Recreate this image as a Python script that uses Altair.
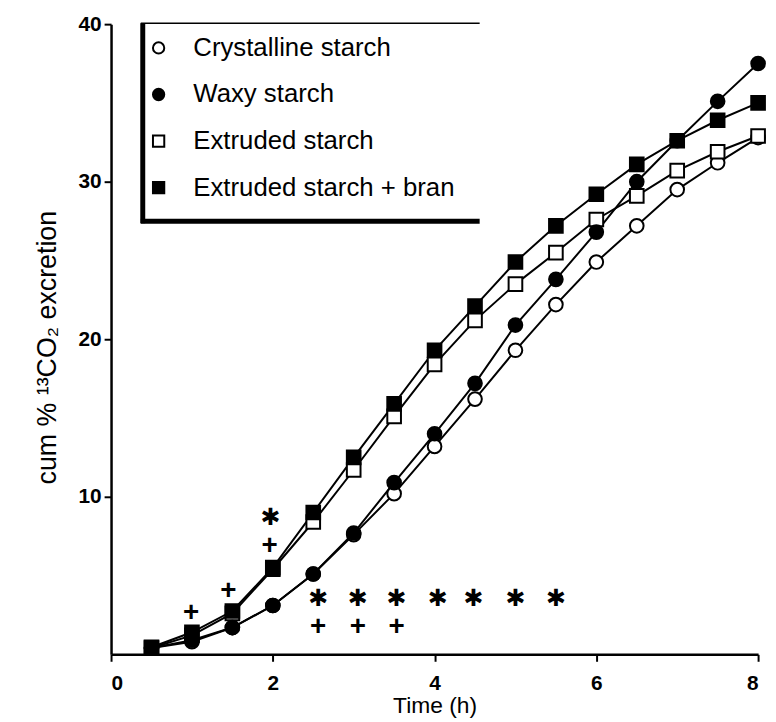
import altair as alt
import pandas as pd

# ---- data ----
time = [0.5, 1, 1.5, 2, 2.5, 3, 3.5, 4, 4.5, 5, 5.5, 6, 6.5, 7, 7.5, 8]
crystalline = [0.4, 0.8, 1.7, 3.1, 5.1, 7.6, 10.2, 13.2, 16.2, 19.3, 22.2, 24.9, 27.2, 29.5, 31.2, 32.8]
waxy = [0.4, 0.9, 1.7, 3.1, 5.1, 7.7, 10.9, 14.0, 17.2, 20.9, 23.8, 26.8, 30.0, 32.6, 35.1, 37.5]
extruded = [0.4, 1.2, 2.6, 5.4, 8.4, 11.7, 15.1, 18.4, 21.2, 23.5, 25.5, 27.6, 29.1, 30.7, 31.9, 32.9]
bran = [0.45, 1.4, 2.75, 5.5, 9.0, 12.5, 15.9, 19.3, 22.1, 24.9, 27.2, 29.2, 31.1, 32.6, 33.9, 35.0]

series_names = ["Crystalline starch", "Extruded starch", "Waxy starch", "Extruded starch + bran"]
legend_order = ["Crystalline starch", "Waxy starch", "Extruded starch", "Extruded starch + bran"]
series_values = [crystalline, extruded, waxy, bran]
shapes = {"Crystalline starch": "circle", "Waxy starch": "circle",
          "Extruded starch": "square", "Extruded starch + bran": "square"}
fills = {"Crystalline starch": "white", "Waxy starch": "black",
         "Extruded starch": "white", "Extruded starch + bran": "black"}

# significance marks
plus_x = [0.99, 1.45, 1.96, 2.56, 3.05, 3.53]
plus_y = [2.64, 4.04, 6.87, 1.70, 1.70, 1.70]
star_x = [1.97, 2.56, 3.05, 3.53, 4.04, 4.48, 5.0, 5.5]
star_y = [8.66, 3.54, 3.54, 3.54, 3.54, 3.54, 3.54, 3.54]

x_ticks = [0, 2, 4, 6, 8]
y_ticks = [10, 20, 30, 40]

rows = []
for name, vals in zip(series_names, series_values):
    for t, v in zip(time, vals):
        rows.append({"time": t, "value": v, "series": name})
df = pd.DataFrame(rows)

ann = pd.DataFrame(
    [{"time": x, "value": y, "sym": "+"} for x, y in zip(plus_x, plus_y)]
    + [{"time": x, "value": y, "sym": "\u2731"} for x, y in zip(star_x, star_y)]
)

FONT = "Liberation Sans"

x_enc = alt.X("time:Q", scale=alt.Scale(domain=[0, 8], nice=False),
              axis=alt.Axis(values=x_ticks, title="Time (h)", format="d"))
y_enc = alt.Y("value:Q", scale=alt.Scale(domain=[0, 40], nice=False),
              axis=alt.Axis(values=y_ticks, title="cum % \u00b9\u00b3CO\u2082 excretion",
                            format="d", titleY=326))

base = alt.Chart(df)

lines = base.mark_line(color="black", strokeWidth=2).encode(
    x=x_enc, y=y_enc, detail="series:N"
)

leg = alt.Legend(title=None, orient="none", legendX=35, legendY=11,
                 symbolSize=130, symbolStrokeWidth=2, symbolStrokeColor="black",
                 labelFont=FONT, labelFontSize=26, labelColor="black", labelLimit=0,
                 rowPadding=21, labelOffset=22, padding=0)

points = base.mark_point(filled=True, strokeWidth=2, size=190, opacity=1).encode(
    x="time:Q", y="value:Q",
    shape=alt.Shape("series:N",
                    scale=alt.Scale(domain=legend_order, range=[shapes[s] for s in legend_order]),
                    legend=leg),
    fill=alt.Fill("series:N",
                  scale=alt.Scale(domain=legend_order, range=[fills[s] for s in legend_order]),
                  legend=leg),
    stroke=alt.Stroke("series:N",
                      scale=alt.Scale(domain=legend_order, range=["black"] * 4),
                      legend=leg),
)

plus = alt.Chart(ann[ann["sym"] == "+"]).mark_text(
    font=FONT, fontSize=28, fontWeight="bold", color="black", baseline="middle", align="center"
).encode(x="time:Q", y="value:Q", text="sym:N")

stars = alt.Chart(ann[ann["sym"] != "+"]).mark_text(
    font="DejaVu Sans", fontSize=24, color="black", baseline="middle", align="center"
).encode(x="time:Q", y="value:Q", text="sym:N")

one = pd.DataFrame({"k": [0]})
box_top = alt.Chart(one).mark_rule(color="black", strokeWidth=1.5).encode(
    x=alt.value(30), x2=alt.value(372), y=alt.value(-1))
box_left = alt.Chart(one).mark_rule(color="black", strokeWidth=5).encode(
    x=alt.value(32), y=alt.value(-1), y2=alt.value(201))
box_bottom = alt.Chart(one).mark_rule(color="black", strokeWidth=5).encode(
    x=alt.value(30), x2=alt.value(372), y=alt.value(199))

chart = alt.layer(lines, points, plus, stars, box_top, box_left, box_bottom).properties(
    width=653, height=636,
    padding={"left": 104, "top": 13, "right": 10, "bottom": 66},
    autosize=alt.AutoSizeParams(type="none"),
).configure_view(stroke=None).configure_axis(
    grid=False, domainColor="black", domainWidth=2.5, tickColor="black", tickWidth=2,
    tickSize=7, labelFont=FONT, labelFontSize=21, labelFontWeight="bold", labelColor="black",
    titleFont=FONT, titleFontSize=23, titleFontWeight="normal", titleColor="black",
).configure_axisX(labelPadding=11, titlePadding=2).configure_axisY(
    labelPadding=3, titlePadding=17, titleFontSize=27)

chart.save("out.html", embed_options={"renderer": "svg", "actions": False})
